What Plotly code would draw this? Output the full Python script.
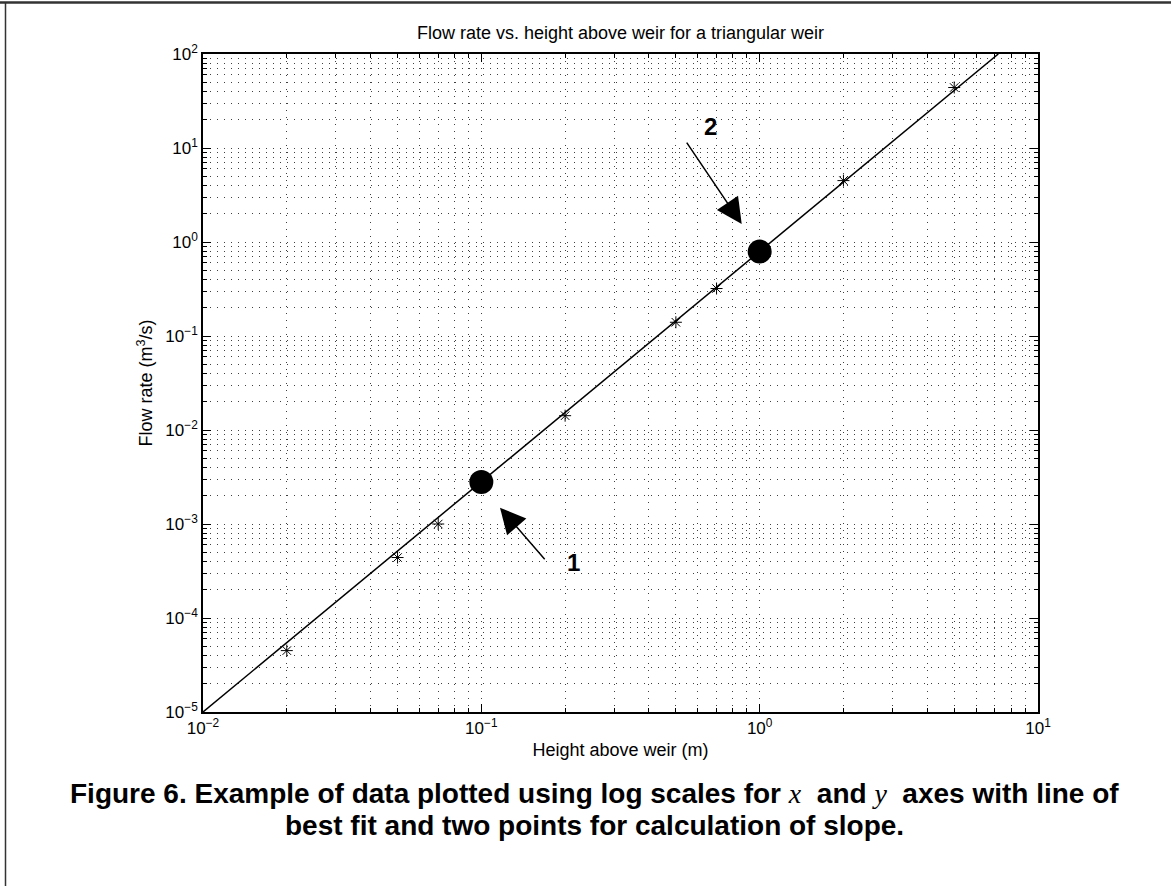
import math
import plotly.graph_objects as go

# ---------------- data ----------------
height_m = [0.02, 0.05, 0.07, 0.2, 0.5, 0.7, 2.0, 5.0]
flow_m3s = [4.5e-5, 4.4e-4, 1.0e-3, 1.42e-2, 0.14, 0.32, 4.5, 44.0]

fit_height = [0.01, 7.2]
fit_flow = [1e-5, 100.0]

slope_pt_height = [0.1, 1.0]
slope_pt_flow = [2.8e-3, 0.79]

arrow_tip_height = [0.1167, 0.862]
arrow_tip_flow = [1.49e-3, 1.55]
arrow_tail_dx = [46, -56]
arrow_tail_dy = [53, -83]

point_labels = ["1", "2"]
label_height = [0.214, 0.667]
label_flow = [3.94e-4, 17.1]

x_tickvals = [1e-2, 1e-1, 1e0, 1e1]
x_ticktext = ["10<sup>\u22122</sup>", "10<sup>\u22121</sup>", "10<sup>0</sup>", "10<sup>1</sup>"]
y_tickvals = [1e-5, 1e-4, 1e-3, 1e-2, 1e-1, 1e0, 1e1, 1e2]
y_ticktext = ["10<sup>\u22125</sup>", "10<sup>\u22124</sup>", "10<sup>\u22123</sup>", "10<sup>\u22122</sup>",
              "10<sup>\u22121</sup>", "10<sup>0</sup>", "10<sup>1</sup>", "10<sup>2</sup>"]
x_minor = [m * 10.0 ** e for e in range(-2, 1) for m in range(2, 10)]
y_minor = [m * 10.0 ** e for e in range(-5, 2) for m in range(2, 10)]

title_text = "Flow rate vs. height above weir for a triangular weir"
x_title = "Height above weir (m)"
y_title = "Flow rate (m<sup>3</sup>/s)"
serif = "font-family:'Liberation Serif','Times New Roman',serif;font-weight:normal"
caption_1 = ("<b>Figure 6. Example of data plotted using log scales for </b>"
             f"<span style=\"{serif}\"><i>x</i></span><b>  and </b>"
             f"<span style=\"{serif}\"><i>y</i></span><b>  axes with line of</b>")
caption_2 = "<b>best fit and two points for calculation of slope.</b>"

# ---------------- layout geometry ----------------
W, H = 1171, 886
L, R, T, B = 203, 133, 54, 174
pw, ph = W - L - R, H - T - B


def px2paper_x(px):
    return (px - L) / pw


def px2paper_y(py):
    return (H - B - py) / ph


FONT = "Liberation Sans, Arial, Helvetica, sans-serif"

fig = go.Figure()

fig.add_trace(go.Scatter(
    x=fit_height, y=fit_flow, mode="lines",
    line=dict(color="black", width=1.5), showlegend=False, hoverinfo="skip"))

fig.add_trace(go.Scatter(
    x=height_m, y=flow_m3s, mode="markers",
    marker=dict(symbol="asterisk-open", size=10, color="black",
                line=dict(color="black", width=1)),
    showlegend=False))

fig.add_trace(go.Scatter(
    x=slope_pt_height, y=slope_pt_flow, mode="markers",
    marker=dict(symbol="circle", size=24, color="black"),
    showlegend=False))

grid_color = "rgba(0,0,0,0.75)"
grid_dash = "1px,6px"

axis_common = dict(
    type="log", showline=True, linecolor="black", linewidth=1.5, mirror="ticks",
    ticks="inside", ticklen=8, tickwidth=1, tickcolor="black",
    showgrid=True, gridcolor=grid_color, gridwidth=1, griddash=grid_dash,
    zeroline=False, tickmode="array",
    tickfont=dict(family=FONT, size=17, color="black"),
)

fig.update_xaxes(
    **axis_common, range=[-2, 1], tickvals=x_tickvals, ticktext=x_ticktext,
    minor=dict(tickmode="array", tickvals=x_minor, ticks="inside", ticklen=4,
               tickwidth=1, tickcolor="black", showgrid=True,
               gridcolor=grid_color, gridwidth=1, griddash=grid_dash),
    title=dict(text=x_title, font=dict(family=FONT, size=18, color="black"), standoff=6),
)
fig.update_yaxes(
    **axis_common, range=[-5, 2], tickvals=y_tickvals, ticktext=y_ticktext,
    minor=dict(tickmode="array", tickvals=y_minor, ticks="inside", ticklen=4,
               tickwidth=1, tickcolor="black", showgrid=True,
               gridcolor=grid_color, gridwidth=1, griddash=grid_dash),
    title=dict(text=y_title, font=dict(family=FONT, size=18, color="black"), standoff=8),
)

annotations = []
for h, q, dx, dy in zip(arrow_tip_height, arrow_tip_flow, arrow_tail_dx, arrow_tail_dy):
    annotations.append(dict(
        x=math.log10(h), y=math.log10(q), xref="x", yref="y",
        ax=dx, ay=dy, showarrow=True, arrowhead=2, arrowsize=3.4,
        arrowwidth=1.5, arrowcolor="black", text="", standoff=0))
for t, h, q in zip(point_labels, label_height, label_flow):
    annotations.append(dict(
        x=math.log10(h), y=math.log10(q), xref="x", yref="y", text=f"<b>{t}</b>",
        showarrow=False, font=dict(family=FONT, size=24, color="black"),
        xanchor="center", yanchor="middle"))

annotations.append(dict(
    x=px2paper_x(594), y=px2paper_y(793), xref="paper", yref="paper", text=caption_1,
    showarrow=False, xanchor="center", yanchor="middle",
    font=dict(family=FONT, size=28, color="black")))
annotations.append(dict(
    x=px2paper_x(594), y=px2paper_y(825), xref="paper", yref="paper", text=caption_2,
    showarrow=False, xanchor="center", yanchor="middle",
    font=dict(family=FONT, size=28, color="black")))

shapes = [
    dict(type="line", xref="paper", yref="paper",
         x0=px2paper_x(0), x1=px2paper_x(W), y0=px2paper_y(2.5), y1=px2paper_y(2.5),
         line=dict(color="#333333", width=2.5)),
    dict(type="line", xref="paper", yref="paper",
         x0=px2paper_x(5.5), x1=px2paper_x(5.5), y0=px2paper_y(2.5), y1=px2paper_y(H),
         line=dict(color="#333333", width=1.5)),
]

fig.update_layout(
    width=W, height=H,
    margin=dict(l=L, r=R, t=T, b=B, pad=0),
    paper_bgcolor="white", plot_bgcolor="white",
    font=dict(family=FONT, color="black"),
    title=dict(text=title_text, x=0.5, xref="paper", xanchor="center",
               y=1 - 33 / H, yref="container", yanchor="middle",
               font=dict(family=FONT, size=18, color="black")),
    annotations=annotations, shapes=shapes, showlegend=False,
)

fig.write_html("out.html")
